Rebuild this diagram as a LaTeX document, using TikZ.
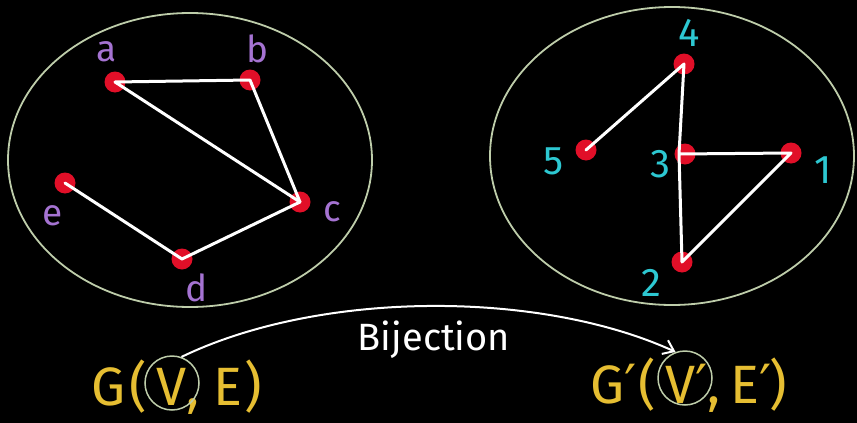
\documentclass[tikz,border=0pt]{standalone}
\usepackage{fontspec}
\setmainfont{Fira Sans}
\newfontfamily\primefont{DejaVu Sans}
\usetikzlibrary{arrows.meta}
\definecolor{ringc}{RGB}{190,205,170}
\definecolor{vred}{RGB}{225,15,40}
\definecolor{lpurple}{RGB}{165,115,210}
\definecolor{lcyan}{RGB}{45,200,210}
\definecolor{gold}{RGB}{230,190,50}
\newcommand{\pr}{{\primefont\symbol{"2032}}}
\begin{document}
\begin{tikzpicture}[x=1pt,y=-1pt,
  vertex/.style={circle,fill=vred,minimum size=21pt,inner sep=0pt},
  edge/.style={draw=white,line width=3pt,line cap=round,line join=round},
  ring/.style={draw=ringc,line width=1.8pt},
  lbla/.style={text=lpurple,inner sep=0pt,font=\fontsize{37}{40}\selectfont},
  lbln/.style={text=lcyan,inner sep=0pt,font=\fontsize{40}{44}\selectfont},
  big/.style={text=gold,inner sep=0pt,anchor=base,font=\fontsize{54}{60}\selectfont},
  vring/.style={circle,draw=ringc,line width=1.5pt,minimum size=54pt,inner sep=0pt},
]
\fill[black] (0,0) rectangle (857,423);
\useasboundingbox (0,0) rectangle (857,423);

% sets
\draw[ring] (190,160) ellipse [x radius=182pt, y radius=147pt];
\draw[ring] (672,156) ellipse [x radius=182pt, y radius=149pt];

% left graph
\node[vertex] (a) at (115,82) {};
\node[vertex] (b) at (250,80) {};
\node[vertex] (c) at (300,202) {};
\node[vertex] (e) at (65,183) {};
\node[vertex] (d) at (182,259) {};
\draw[edge] (a.center) -- (b.center) -- (c.center) -- (a.center);
\draw[edge] (c.center) -- (d.center) -- (e.center);
\node[lbla] (la) at (107,52) {a};
\node[lbla] (lb) at (257,49) {b};
\node[lbla] (lc) at (332,212) {c};
\node[lbla] (le) at (53,216) {e};
\node[lbla] (ld) at (197,288) {d};

% right graph
\node[vertex] (n4) at (684,64) {};
\node[vertex] (n5) at (586,150) {};
\node[vertex] (n3) at (685,154) {};
\node[vertex] (n1) at (791,153) {};
\node[vertex] (n2) at (682,262) {};
\coordinate (m3) at (679,154);
\draw[edge] (n5.center) -- (n4.center) -- (m3) -- (n2.center) -- (n1.center) -- (m3);
\node[lbln] (l4) at (689,33) {4};
\node[lbln] (l5) at (554,161) {5};
\node[lbln] (l3) at (660,164) {3};
\node[lbln] (l1) at (823,170) {1};
\node[lbln] (l2) at (651,283) {2};

% G(V,E)
\node[big] (G1) at (109,405) {G};
\node[big] (p1) at (138,405) {(};
\node[big] (V1) at (172,405) {V};
\node[big] (k1) at (193,405) {,};
\node[big] (E1) at (228,405) {E};
\node[big] (q1) at (253,405) {)};
\node[vring] (cv1) at (172,383) {};

% G'(V',E')
\node[big] (G2) at (614,403) {G\pr};
\node[big] (p2) at (647,403) {(};
\node[big] (V2) at (687,403) {V\pr};
\node[big] (k2) at (714,403) {,};
\node[big] (E2) at (751,403) {E\pr};
\node[big] (q2) at (778,403) {)};
\node[vring] (cv2) at (685,378) {};

% bijection arrow
\draw[white,line width=2pt,-{Straight Barb[length=10pt,width=15pt]}]
  (cv1.70) .. controls (320,290) and (540,290) .. (cv2.110);
\node[text=white,inner sep=0pt,font=\fontsize{38}{42}\selectfont] (bij) at (434,340) {Bijection};
\end{tikzpicture}
\end{document}
